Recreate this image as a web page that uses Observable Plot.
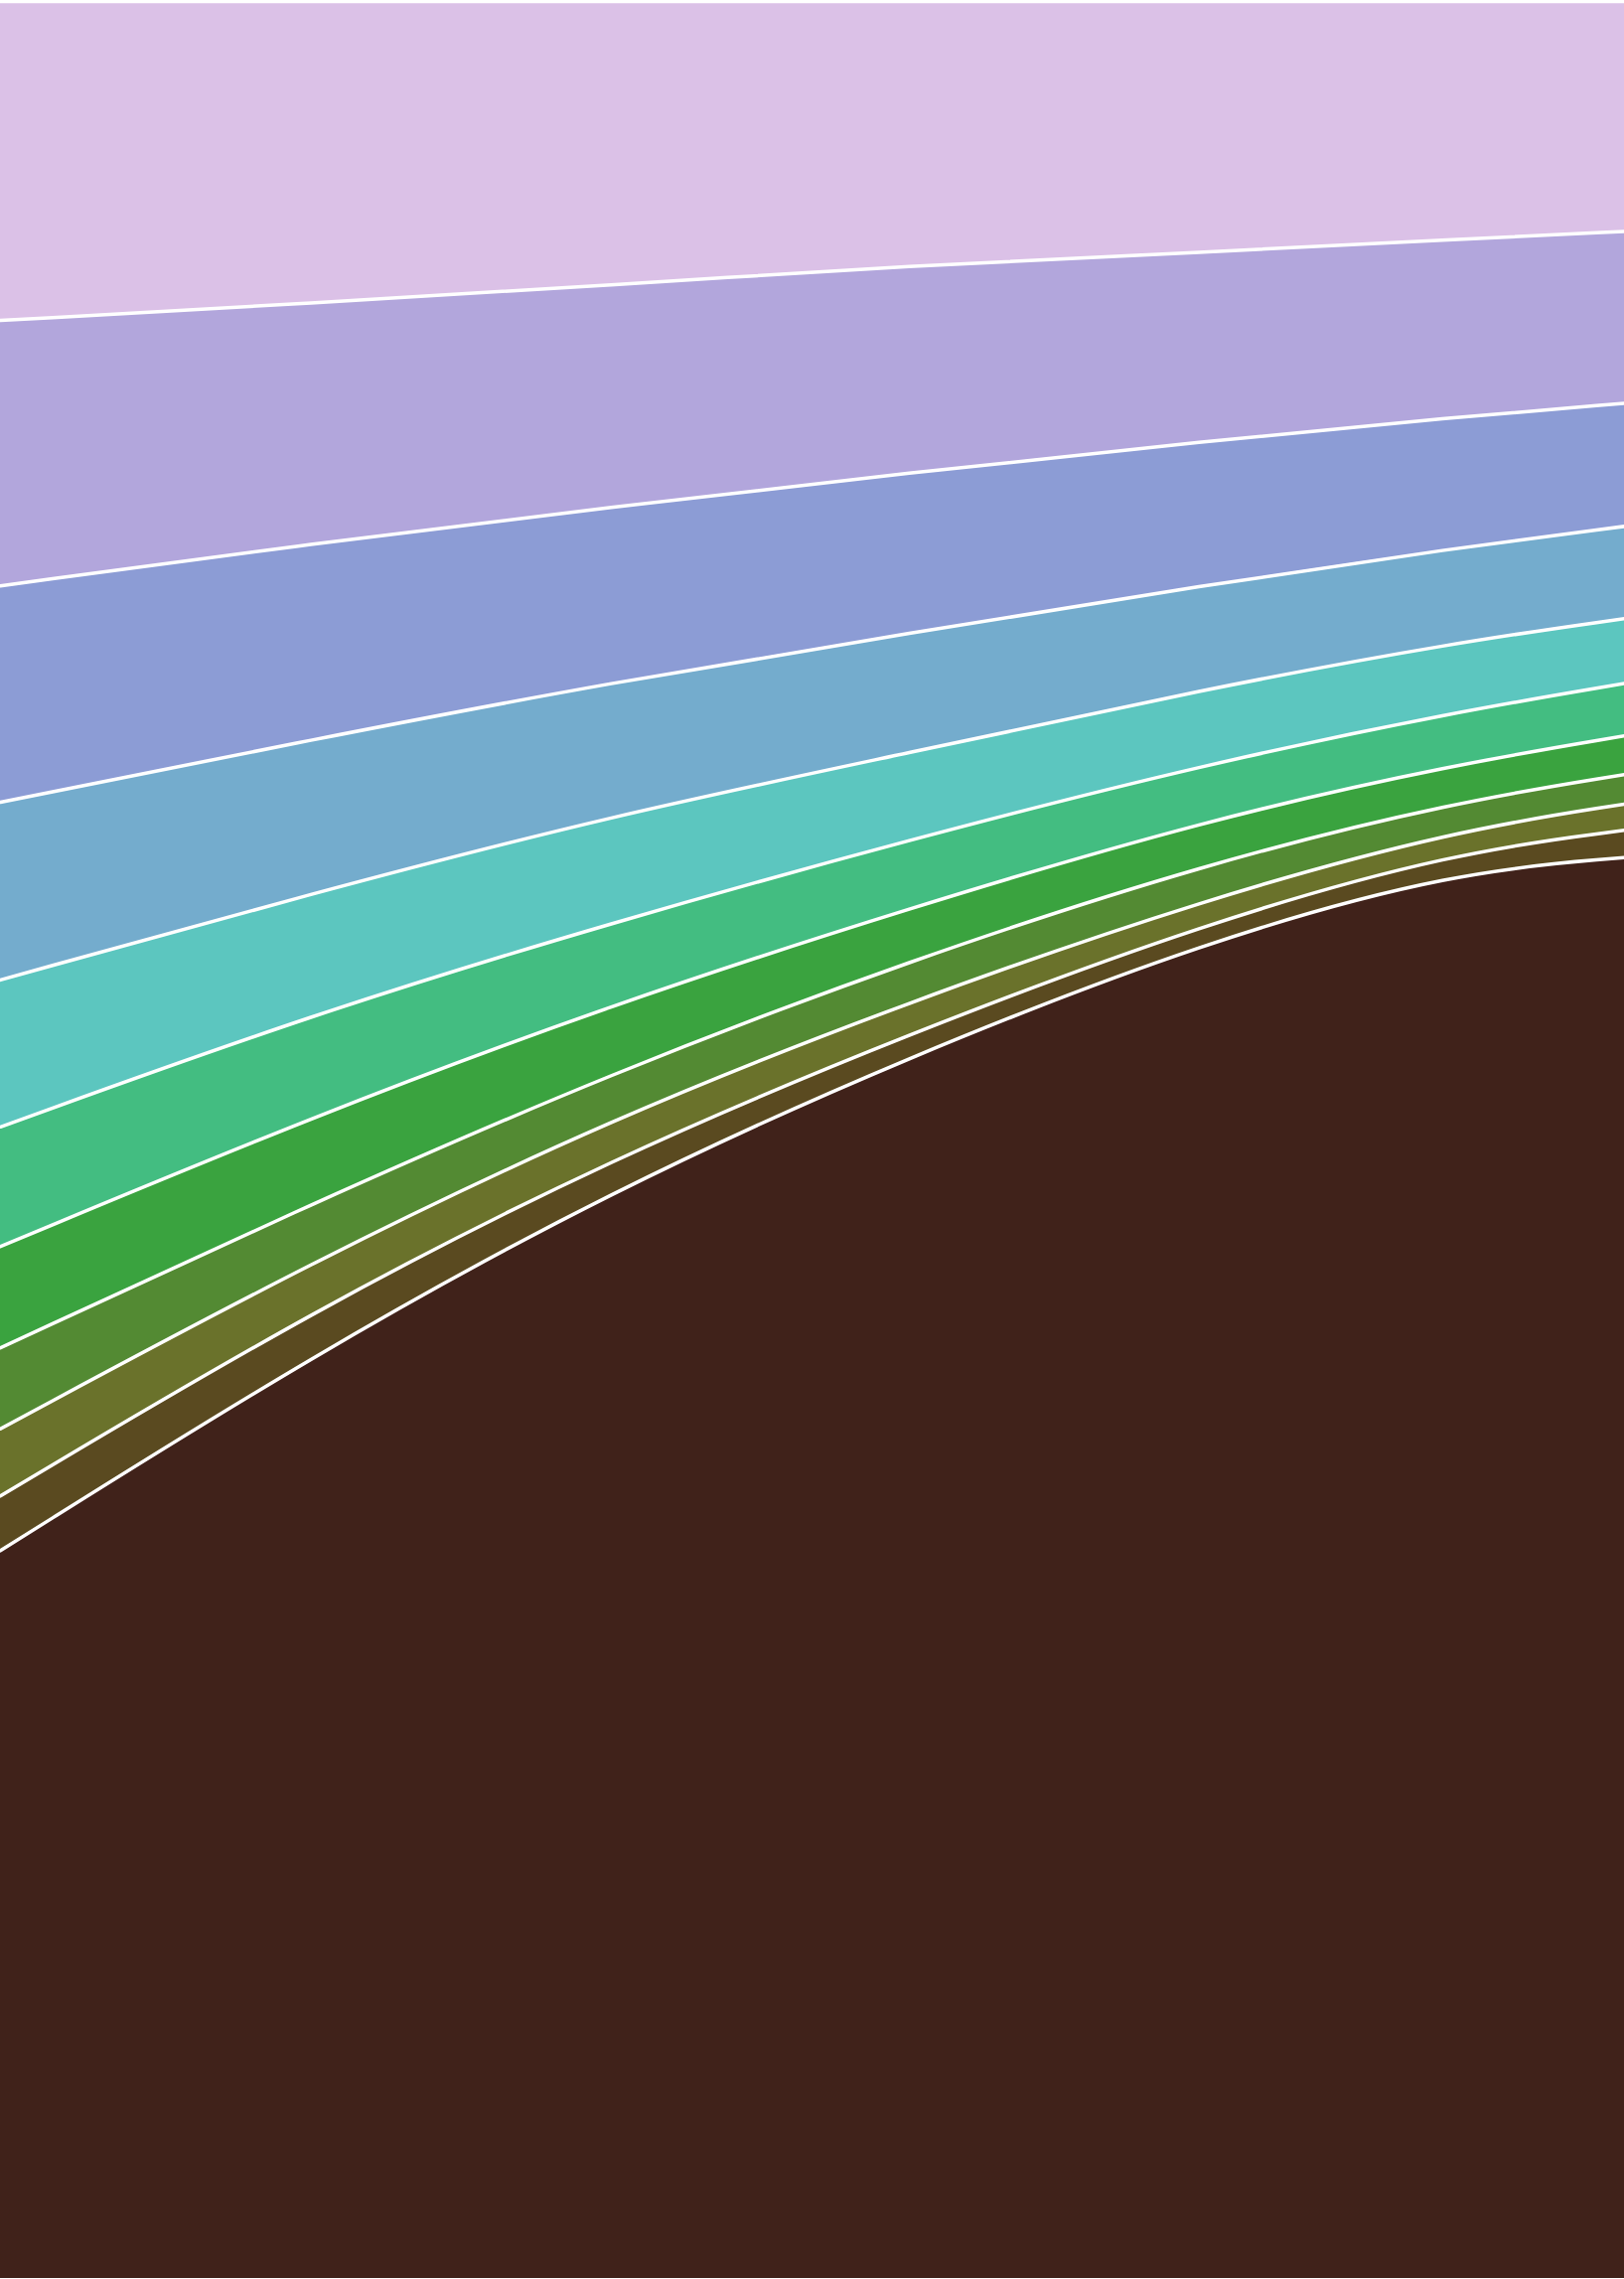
<!DOCTYPE html>
<html>
<head>
<meta charset="utf-8">
<script src="https://cdn.jsdelivr.net/npm/d3@7"></script>
<script src="https://cdn.jsdelivr.net/npm/@observablehq/plot@0.6"></script>
<style>
  html, body { margin: 0; padding: 0; background: #ffffff; }
  #chart svg { display: block; }
</style>
</head>
<body>
<div id="chart"></div>
<script>
// Sample positions along the (unlabelled) horizontal axis, 0–100
const steps = [0, 19.27, 37.61, 55.96, 74.31, 89.60, 100];

// Layer names, bottom to top
const layers = ["K", "J", "I", "H", "G", "F", "E", "D", "C", "B", "A"];

// Share (%) of each layer at each step
const layerK = [31.95, 40.6, 47.8, 53.7, 58.75, 61.8, 62.4];
const layerJ = [2.4, 1.95, 1.4, 1.0, 0.8, 0.85, 1.2];
const layerI = [2.95, 2.15, 1.75, 1.4, 1.05, 0.95, 1.15];
const layerH = [3.55, 2.55, 2.0, 1.8, 1.55, 1.25, 1.3];
const layerG = [4.45, 3.8, 3.0, 2.3, 1.9, 1.65, 1.7];
const layerF = [5.25, 4.5, 3.6, 3.0, 2.45, 2.3, 2.3];
const layerE = [6.45, 5.3, 4.7, 3.8, 3.3, 3.05, 2.85];
const layerD = [7.8, 6.75, 5.85, 5.25, 4.55, 4.15, 4.05];
const layerC = [9.5, 8.6, 7.7, 7.05, 6.3, 5.75, 5.4];
const layerB = [11.65, 10.55, 9.75, 9.1, 8.3, 7.8, 7.55];
const layerA = [14.0, 13.25, 12.45, 11.6, 11.0, 10.45, 10.1];

const layerColors = ["#40221a", "#5a4a20", "#6a722b", "#538a33", "#3aa33f",
                     "#43bd81", "#5cc6bf", "#74accd", "#8c9cd5", "#b2a6dc", "#dbc1e7"];

const seriesValues = [layerK, layerJ, layerI, layerH, layerG, layerF, layerE, layerD, layerC, layerB, layerA];
const table = [];
layers.forEach((name, i) => {
  steps.forEach((t, j) => table.push({layer: name, t, share: seriesValues[i][j]}));
});

const stackOpts = {x: "t", y: "share", z: "layer", order: layers, offset: "normalize"};

const chart = Plot.plot({
  width: 1635,
  height: 2294,
  marginTop: 1,
  marginBottom: 1,
  marginLeft: 0,
  marginRight: 0,
  x: {domain: [0, 100], axis: null},
  y: {axis: null},
  color: {domain: layers, range: layerColors},
  marks: [
    Plot.areaY(table, Plot.stackY({...stackOpts, fill: "layer", curve: "basis"})),
    Plot.lineY(table, Plot.stackY2({...stackOpts, stroke: "#ffffff", strokeWidth: 3.5, curve: "basis"}))
  ]
});
document.getElementById("chart").append(chart);
</script>
</body>
</html>
